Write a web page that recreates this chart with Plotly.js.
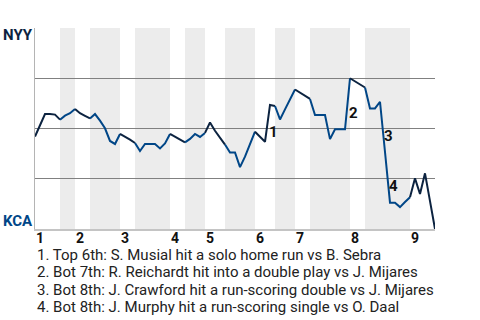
<!DOCTYPE html>
<html>
<head>
<meta charset="utf-8">
<script src="https://cdn.plot.ly/plotly-3.0.1.min.js"></script>
<style>html,body{margin:0;padding:0;background:#fff;}#chart{width:480px;height:320px;}</style>
</head>
<body>
<div id="chart"></div>
<script>
// Win probability (1 = NYY win, 0 = KCA win) after each plate appearance
const winProb = [0.460,0.517,0.572,0.572,0.569,0.544,0.564,0.576,0.597,0.576,
  0.563,0.550,0.572,0.539,0.501,0.438,0.423,0.473,0.460,0.445,
  0.428,0.388,0.423,0.423,0.423,0.401,0.426,0.473,0.459,0.443,
  0.431,0.448,0.473,0.458,0.478,0.530,0.489,0.456,0.420,0.381,
  0.381,0.308,0.360,0.426,0.484,0.458,0.434,0.617,0.612,0.545,
  0.595,0.644,0.694,0.679,0.663,0.647,0.567,0.567,0.567,0.447,
  0.496,0.496,0.496,0.750,0.734,0.719,0.704,0.600,0.600,0.633,
  0.383,0.131,0.131,0.109,0.134,0.158,0.252,0.174,0.277,0.139,0.0];
// event index where each half-inning starts (plus final end)
const halfStarts = [0,5,8,11,17,20,27,30,34,38,44,48,52,55,63,66,75,80];
const inningStarts = [0,8,17,27,34,44,52,63,75];
const inningLabels = ['1','2','3','4','5','6','7','8','9'];
const eventIdx = [47,63,70,71];
const eventLabels = ['1','2','3','4'];
const eventTexts = [
  '1. Top 6th: S. Musial hit a solo home run vs B. Sebra',
  '2. Bot 7th: R. Reichardt hit into a double play vs J. Mijares',
  '3. Bot 8th: J. Crawford hit a run-scoring double vs J. Mijares',
  '4. Bot 8th: J. Murphy hit a run-scoring single vs O. Daal'
];
const teamTop = 'NYY', teamBottom = 'KCA';

const NAVY = '#0c2340', BLUE = '#004687';
const traces = [];
const shapes = [];
for (let h = 0; h < halfStarts.length - 1; h++) {
  const a = halfStarts[h], b = halfStarts[h+1];
  const xs = [], ys = [];
  for (let i = a; i <= b; i++) { xs.push(i); ys.push(winProb[i]); }
  traces.push({x: xs, y: ys, type: 'scatter', mode: 'lines',
    line: {color: h % 2 === 0 ? NAVY : BLUE, width: 2}, hoverinfo: 'skip', showlegend: false});
  if (h % 2 === 1) {
    shapes.push({type: 'rect', xref: 'x', yref: 'y', x0: a, x1: b, y0: 0, y1: 1,
      fillcolor: '#ececec', line: {width: 0}, layer: 'below'});
  }
}

const annotations = [];
annotations.push({xref: 'paper', yref: 'paper', x: -0.085, y: 0.965, xanchor: 'left', yanchor: 'middle',
  text: teamTop, showarrow: false, font: {family: 'Roboto', size: 15, weight: 'bold', color: NAVY}});
annotations.push({xref: 'paper', yref: 'paper', x: -0.085, y: 0.04, xanchor: 'left', yanchor: 'middle',
  text: teamBottom, showarrow: false, font: {family: 'Roboto', size: 15, weight: 'bold', color: BLUE}});
inningStarts.forEach((s, k) => {
  annotations.push({xref: 'x', yref: 'paper', x: s, y: -0.045, xanchor: 'left', yanchor: 'middle', xshift: -1,
    text: inningLabels[k], showarrow: false, font: {family: 'Roboto', size: 14, weight: 'bold', color: '#111'}});
});
eventIdx.forEach((idx, k) => {
  annotations.push({xref: 'x', yref: 'y', x: idx - 0.5, y: (winProb[idx-1] + winProb[idx]) / 2,
    xshift: 5.5, yshift: -9, xanchor: 'center', yanchor: 'middle', text: eventLabels[k], showarrow: false,
    font: {family: 'Roboto', size: 15, weight: 'bold', color: '#111'}});
});
const lineY = [-0.129, -0.216, -0.303, -0.388];
eventTexts.forEach((t, k) => {
  annotations.push({xref: 'paper', yref: 'paper', x: 0, y: lineY[k], xanchor: 'left', yanchor: 'middle',
    text: t, showarrow: false, font: {family: 'Roboto', size: 15, color: '#222'}});
});

const layout = {
  width: 480, height: 320,
  margin: {l: 35, r: 45, t: 28, b: 91},
  paper_bgcolor: '#fff', plot_bgcolor: '#fff',
  xaxis: {range: [0, 80], showgrid: false, zeroline: false, showline: true, linecolor: '#c4c4c4', linewidth: 1.5,
    showticklabels: false, ticks: '', fixedrange: true},
  yaxis: {range: [0, 1], tickvals: [0.25, 0.5, 0.75, 1], showticklabels: false, ticks: '',
    showgrid: true, gridcolor: '#808080', gridwidth: 1.2, zeroline: false,
    showline: true, linecolor: '#b4b4b4', linewidth: 1.5, fixedrange: true},
  shapes: shapes,
  annotations: annotations,
  showlegend: false
};
Plotly.newPlot('chart', traces, layout, {displayModeBar: false, staticPlot: true});
</script>
</body>
</html>
